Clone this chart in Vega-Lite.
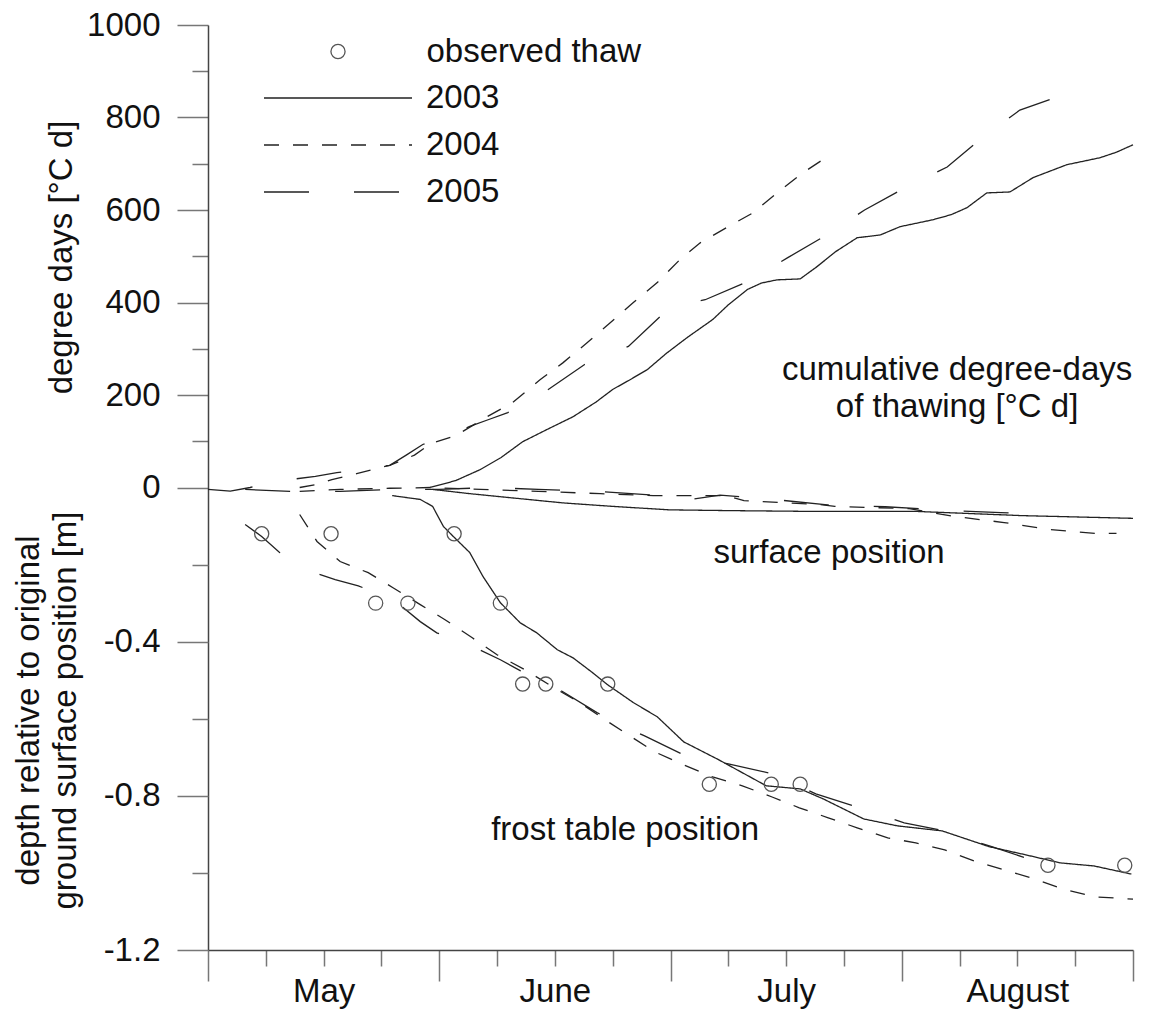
{
  "$schema": "https://vega.github.io/schema/vega-lite/v6.json",
  "width": 925,
  "height": 925,
  "autosize": "none",
  "padding": {"left": 208, "top": 25, "right": 18, "bottom": 67},
  "background": "white",
  "config": {
    "view": {"stroke": null},
    "font": "Liberation Sans",
    "axis": {"labelFont": "Liberation Sans", "titleFont": "Liberation Sans", "labelColor": "#111", "titleColor": "#111", "labelFontSize": 33, "titleFontSize": 33, "titleFontWeight": "normal", "grid": false, "domainColor": "#444", "domainWidth": 1.5, "tickColor": "#777", "tickWidth": 1.5, "labelOverlap": false, "labelFlush": false},
    "legend": {"labelFont": "Liberation Sans", "labelFontSize": 33, "labelColor": "#111", "labelLimit": 0, "padding": 0}
  },
  "datasets": {
    "degreedays": [
      {"year": "2003", "day": 26.9, "dd": 0}, {"year": "2003", "day": 30, "dd": 15}, {"year": "2003", "day": 33, "dd": 39}, {"year": "2003", "day": 35.5, "dd": 65}, {"year": "2003", "day": 38.1, "dd": 99}, {"year": "2003", "day": 41, "dd": 125}, {"year": "2003", "day": 44.2, "dd": 153}, {"year": "2003", "day": 47, "dd": 185}, {"year": "2003", "day": 49, "dd": 212}, {"year": "2003", "day": 51, "dd": 232}, {"year": "2003", "day": 53.2, "dd": 255}, {"year": "2003", "day": 55.5, "dd": 290}, {"year": "2003", "day": 58, "dd": 324}, {"year": "2003", "day": 61.1, "dd": 363}, {"year": "2003", "day": 63, "dd": 395}, {"year": "2003", "day": 65.3, "dd": 428}, {"year": "2003", "day": 67, "dd": 442}, {"year": "2003", "day": 68.9, "dd": 449}, {"year": "2003", "day": 71.7, "dd": 451}, {"year": "2003", "day": 73.7, "dd": 477}, {"year": "2003", "day": 76, "dd": 510}, {"year": "2003", "day": 78.6, "dd": 540}, {"year": "2003", "day": 81.4, "dd": 546}, {"year": "2003", "day": 83.8, "dd": 564}, {"year": "2003", "day": 87.8, "dd": 579}, {"year": "2003", "day": 90, "dd": 590}, {"year": "2003", "day": 91.9, "dd": 605}, {"year": "2003", "day": 94.3, "dd": 637}, {"year": "2003", "day": 97.1, "dd": 639}, {"year": "2003", "day": 99.9, "dd": 670}, {"year": "2003", "day": 104, "dd": 698}, {"year": "2003", "day": 108, "dd": 713}, {"year": "2003", "day": 110, "dd": 725}, {"year": "2003", "day": 112, "dd": 741},
      {"year": "2004", "day": 11.1, "dd": 0}, {"year": "2004", "day": 13, "dd": 6}, {"year": "2004", "day": 15, "dd": 17}, {"year": "2004", "day": 18, "dd": 30}, {"year": "2004", "day": 22, "dd": 48}, {"year": "2004", "day": 25, "dd": 70}, {"year": "2004", "day": 27, "dd": 95}, {"year": "2004", "day": 30, "dd": 112}, {"year": "2004", "day": 33.8, "dd": 153}, {"year": "2004", "day": 36.9, "dd": 184}, {"year": "2004", "day": 40.2, "dd": 233}, {"year": "2004", "day": 43, "dd": 270}, {"year": "2004", "day": 45.9, "dd": 313}, {"year": "2004", "day": 48.7, "dd": 356}, {"year": "2004", "day": 51.5, "dd": 400}, {"year": "2004", "day": 54.4, "dd": 443}, {"year": "2004", "day": 57.1, "dd": 492}, {"year": "2004", "day": 59.6, "dd": 529}, {"year": "2004", "day": 62.8, "dd": 562}, {"year": "2004", "day": 66, "dd": 594}, {"year": "2004", "day": 68.9, "dd": 637}, {"year": "2004", "day": 72, "dd": 680}, {"year": "2004", "day": 75.3, "dd": 719},
      {"year": "2005", "day": 0, "dd": -4}, {"year": "2005", "day": 2.7, "dd": -8}, {"year": "2005", "day": 5.1, "dd": 0}, {"year": "2005", "day": 7.1, "dd": 10}, {"year": "2005", "day": 9.9, "dd": 17}, {"year": "2005", "day": 13, "dd": 24}, {"year": "2005", "day": 15.6, "dd": 32}, {"year": "2005", "day": 19, "dd": 40}, {"year": "2005", "day": 22, "dd": 48}, {"year": "2005", "day": 24, "dd": 70}, {"year": "2005", "day": 26, "dd": 93}, {"year": "2005", "day": 29, "dd": 112}, {"year": "2005", "day": 31.7, "dd": 132}, {"year": "2005", "day": 34, "dd": 147}, {"year": "2005", "day": 36.3, "dd": 162}, {"year": "2005", "day": 41.2, "dd": 212}, {"year": "2005", "day": 45.6, "dd": 266}, {"year": "2005", "day": 48, "dd": 285}, {"year": "2005", "day": 50.9, "dd": 305}, {"year": "2005", "day": 55, "dd": 374}, {"year": "2005", "day": 57, "dd": 395}, {"year": "2005", "day": 60.2, "dd": 406}, {"year": "2005", "day": 65.3, "dd": 445}, {"year": "2005", "day": 70.2, "dd": 497}, {"year": "2005", "day": 74.9, "dd": 546}, {"year": "2005", "day": 79.5, "dd": 600}, {"year": "2005", "day": 84.4, "dd": 648}, {"year": "2005", "day": 89.5, "dd": 693}, {"year": "2005", "day": 93.7, "dd": 756}, {"year": "2005", "day": 98.3, "dd": 816}, {"year": "2005", "day": 103.5, "dd": 849}, {"year": "2005", "day": 105.3, "dd": 860}
    ],
    "depth": [
      {"year": "2003", "kind": "surface", "day": 27.2, "depth": -0.005}, {"year": "2003", "kind": "surface", "day": 31.7, "depth": -0.016}, {"year": "2003", "kind": "surface", "day": 37.8, "depth": -0.029}, {"year": "2003", "kind": "surface", "day": 43, "depth": -0.04}, {"year": "2003", "kind": "surface", "day": 49, "depth": -0.049}, {"year": "2003", "kind": "surface", "day": 55.9, "depth": -0.058}, {"year": "2003", "kind": "surface", "day": 63.2, "depth": -0.06}, {"year": "2003", "kind": "surface", "day": 73, "depth": -0.062}, {"year": "2003", "kind": "surface", "day": 85.7, "depth": -0.062}, {"year": "2003", "kind": "surface", "day": 98.6, "depth": -0.073}, {"year": "2003", "kind": "surface", "day": 112, "depth": -0.08},
      {"year": "2004", "kind": "surface", "day": 11.1, "depth": -0.01}, {"year": "2004", "kind": "surface", "day": 16, "depth": -0.005}, {"year": "2004", "kind": "surface", "day": 22, "depth": -0.002}, {"year": "2004", "kind": "surface", "day": 27, "depth": 0.0}, {"year": "2004", "kind": "surface", "day": 33, "depth": -0.005}, {"year": "2004", "kind": "surface", "day": 40, "depth": -0.01}, {"year": "2004", "kind": "surface", "day": 47.5, "depth": -0.016}, {"year": "2004", "kind": "surface", "day": 53.9, "depth": -0.021}, {"year": "2004", "kind": "surface", "day": 62.8, "depth": -0.021}, {"year": "2004", "kind": "surface", "day": 64.9, "depth": -0.034}, {"year": "2004", "kind": "surface", "day": 73.9, "depth": -0.044}, {"year": "2004", "kind": "surface", "day": 75.9, "depth": -0.049}, {"year": "2004", "kind": "surface", "day": 84.9, "depth": -0.055}, {"year": "2004", "kind": "surface", "day": 90.4, "depth": -0.075}, {"year": "2004", "kind": "surface", "day": 96.4, "depth": -0.091}, {"year": "2004", "kind": "surface", "day": 101.9, "depth": -0.109}, {"year": "2004", "kind": "surface", "day": 107.5, "depth": -0.119}, {"year": "2004", "kind": "surface", "day": 110, "depth": -0.119},
      {"year": "2005", "kind": "surface", "day": 4.5, "depth": -0.005}, {"year": "2005", "kind": "surface", "day": 10, "depth": -0.01}, {"year": "2005", "kind": "surface", "day": 16, "depth": -0.01}, {"year": "2005", "kind": "surface", "day": 22, "depth": -0.005}, {"year": "2005", "kind": "surface", "day": 28, "depth": -0.005}, {"year": "2005", "kind": "surface", "day": 34, "depth": 0.0}, {"year": "2005", "kind": "surface", "day": 40, "depth": -0.005}, {"year": "2005", "kind": "surface", "day": 47, "depth": -0.01}, {"year": "2005", "kind": "surface", "day": 54, "depth": -0.02}, {"year": "2005", "kind": "surface", "day": 58, "depth": -0.032}, {"year": "2005", "kind": "surface", "day": 62, "depth": -0.02}, {"year": "2005", "kind": "surface", "day": 68, "depth": -0.03}, {"year": "2005", "kind": "surface", "day": 75, "depth": -0.045}, {"year": "2005", "kind": "surface", "day": 82, "depth": -0.05}, {"year": "2005", "kind": "surface", "day": 90, "depth": -0.06}, {"year": "2005", "kind": "surface", "day": 96, "depth": -0.065}, {"year": "2005", "kind": "surface", "day": 101, "depth": -0.07},
      {"year": "2003", "kind": "frost", "day": 22.3, "depth": -0.021}, {"year": "2003", "kind": "frost", "day": 25.7, "depth": -0.031}, {"year": "2003", "kind": "frost", "day": 27.2, "depth": -0.049}, {"year": "2003", "kind": "frost", "day": 28.5, "depth": -0.101}, {"year": "2003", "kind": "frost", "day": 29.7, "depth": -0.127}, {"year": "2003", "kind": "frost", "day": 31.7, "depth": -0.169}, {"year": "2003", "kind": "frost", "day": 33.3, "depth": -0.231}, {"year": "2003", "kind": "frost", "day": 35.4, "depth": -0.299}, {"year": "2003", "kind": "frost", "day": 37.8, "depth": -0.351}, {"year": "2003", "kind": "frost", "day": 39.8, "depth": -0.377}, {"year": "2003", "kind": "frost", "day": 42.3, "depth": -0.421}, {"year": "2003", "kind": "frost", "day": 44.2, "depth": -0.442}, {"year": "2003", "kind": "frost", "day": 46.6, "depth": -0.481}, {"year": "2003", "kind": "frost", "day": 48.4, "depth": -0.512}, {"year": "2003", "kind": "frost", "day": 51.5, "depth": -0.558}, {"year": "2003", "kind": "frost", "day": 54.4, "depth": -0.595}, {"year": "2003", "kind": "frost", "day": 57.6, "depth": -0.66}, {"year": "2003", "kind": "frost", "day": 61.8, "depth": -0.706}, {"year": "2003", "kind": "frost", "day": 67.6, "depth": -0.774}, {"year": "2003", "kind": "frost", "day": 71.7, "depth": -0.782}, {"year": "2003", "kind": "frost", "day": 74.5, "depth": -0.808}, {"year": "2003", "kind": "frost", "day": 79.4, "depth": -0.86}, {"year": "2003", "kind": "frost", "day": 83.5, "depth": -0.878}, {"year": "2003", "kind": "frost", "day": 88.9, "depth": -0.891}, {"year": "2003", "kind": "frost", "day": 94.6, "depth": -0.932}, {"year": "2003", "kind": "frost", "day": 99, "depth": -0.953}, {"year": "2003", "kind": "frost", "day": 103.2, "depth": -0.974}, {"year": "2003", "kind": "frost", "day": 107.3, "depth": -0.982}, {"year": "2003", "kind": "frost", "day": 111.8, "depth": -1.003},
      {"year": "2004", "kind": "frost", "day": 11.1, "depth": -0.07}, {"year": "2004", "kind": "frost", "day": 13.2, "depth": -0.14}, {"year": "2004", "kind": "frost", "day": 16, "depth": -0.192}, {"year": "2004", "kind": "frost", "day": 19.4, "depth": -0.221}, {"year": "2004", "kind": "frost", "day": 22.4, "depth": -0.26}, {"year": "2004", "kind": "frost", "day": 25.7, "depth": -0.304}, {"year": "2004", "kind": "frost", "day": 28.7, "depth": -0.343}, {"year": "2004", "kind": "frost", "day": 32, "depth": -0.39}, {"year": "2004", "kind": "frost", "day": 35, "depth": -0.434}, {"year": "2004", "kind": "frost", "day": 38.4, "depth": -0.473}, {"year": "2004", "kind": "frost", "day": 41.7, "depth": -0.517}, {"year": "2004", "kind": "frost", "day": 45, "depth": -0.558}, {"year": "2004", "kind": "frost", "day": 48.1, "depth": -0.603}, {"year": "2004", "kind": "frost", "day": 50.9, "depth": -0.642}, {"year": "2004", "kind": "frost", "day": 54.1, "depth": -0.686}, {"year": "2004", "kind": "frost", "day": 57.5, "depth": -0.719}, {"year": "2004", "kind": "frost", "day": 61.1, "depth": -0.751}, {"year": "2004", "kind": "frost", "day": 64.7, "depth": -0.774}, {"year": "2004", "kind": "frost", "day": 68.3, "depth": -0.803}, {"year": "2004", "kind": "frost", "day": 71.6, "depth": -0.831}, {"year": "2004", "kind": "frost", "day": 75.1, "depth": -0.857}, {"year": "2004", "kind": "frost", "day": 78.6, "depth": -0.883}, {"year": "2004", "kind": "frost", "day": 82.3, "depth": -0.909}, {"year": "2004", "kind": "frost", "day": 85.7, "depth": -0.922}, {"year": "2004", "kind": "frost", "day": 89.2, "depth": -0.94}, {"year": "2004", "kind": "frost", "day": 93, "depth": -0.971}, {"year": "2004", "kind": "frost", "day": 96.4, "depth": -0.992}, {"year": "2004", "kind": "frost", "day": 100.1, "depth": -1.016}, {"year": "2004", "kind": "frost", "day": 103.6, "depth": -1.042}, {"year": "2004", "kind": "frost", "day": 107.3, "depth": -1.062}, {"year": "2004", "kind": "frost", "day": 112, "depth": -1.068},
      {"year": "2005", "kind": "frost", "day": 4.5, "depth": -0.096}, {"year": "2005", "kind": "frost", "day": 6.5, "depth": -0.127}, {"year": "2005", "kind": "frost", "day": 8.7, "depth": -0.169}, {"year": "2005", "kind": "frost", "day": 10.9, "depth": -0.192}, {"year": "2005", "kind": "frost", "day": 13.2, "depth": -0.223}, {"year": "2005", "kind": "frost", "day": 15.4, "depth": -0.239}, {"year": "2005", "kind": "frost", "day": 18.2, "depth": -0.255}, {"year": "2005", "kind": "frost", "day": 20.8, "depth": -0.278}, {"year": "2005", "kind": "frost", "day": 23.2, "depth": -0.304}, {"year": "2005", "kind": "frost", "day": 25.7, "depth": -0.348}, {"year": "2005", "kind": "frost", "day": 27.7, "depth": -0.377}, {"year": "2005", "kind": "frost", "day": 30.5, "depth": -0.4}, {"year": "2005", "kind": "frost", "day": 32.9, "depth": -0.421}, {"year": "2005", "kind": "frost", "day": 35.4, "depth": -0.447}, {"year": "2005", "kind": "frost", "day": 37.8, "depth": -0.475}, {"year": "2005", "kind": "frost", "day": 40.2, "depth": -0.499}, {"year": "2005", "kind": "frost", "day": 42.6, "depth": -0.525}, {"year": "2005", "kind": "frost", "day": 47.1, "depth": -0.584}, {"year": "2005", "kind": "frost", "day": 49.9, "depth": -0.616}, {"year": "2005", "kind": "frost", "day": 52.8, "depth": -0.644}, {"year": "2005", "kind": "frost", "day": 57.6, "depth": -0.694}, {"year": "2005", "kind": "frost", "day": 60.2, "depth": -0.706}, {"year": "2005", "kind": "frost", "day": 63, "depth": -0.717}, {"year": "2005", "kind": "frost", "day": 68.8, "depth": -0.745}, {"year": "2005", "kind": "frost", "day": 71.1, "depth": -0.771}, {"year": "2005", "kind": "frost", "day": 73.6, "depth": -0.795}, {"year": "2005", "kind": "frost", "day": 78.9, "depth": -0.831}, {"year": "2005", "kind": "frost", "day": 81.4, "depth": -0.849}, {"year": "2005", "kind": "frost", "day": 84.3, "depth": -0.87}, {"year": "2005", "kind": "frost", "day": 89.2, "depth": -0.891}, {"year": "2005", "kind": "frost", "day": 92.3, "depth": -0.914}, {"year": "2005", "kind": "frost", "day": 94.9, "depth": -0.932}, {"year": "2005", "kind": "frost", "day": 100.4, "depth": -0.971}
    ],
    "observed": [
      {"obs": "observed thaw", "day": 6.5, "depth": -0.12}, {"obs": "observed thaw", "day": 14.9, "depth": -0.12}, {"obs": "observed thaw", "day": 20.3, "depth": -0.3}, {"obs": "observed thaw", "day": 24.2, "depth": -0.3}, {"obs": "observed thaw", "day": 29.8, "depth": -0.12}, {"obs": "observed thaw", "day": 35.4, "depth": -0.3}, {"obs": "observed thaw", "day": 38.1, "depth": -0.51}, {"obs": "observed thaw", "day": 40.9, "depth": -0.51}, {"obs": "observed thaw", "day": 48.4, "depth": -0.51}, {"obs": "observed thaw", "day": 60.7, "depth": -0.77}, {"obs": "observed thaw", "day": 68.2, "depth": -0.77}, {"obs": "observed thaw", "day": 71.7, "depth": -0.77}, {"obs": "observed thaw", "day": 101.7, "depth": -0.98}, {"obs": "observed thaw", "day": 111, "depth": -0.98}
    ]
  },
  "layer": [
    {
      "layer": [
        {
          "data": {"name": "degreedays"},
          "mark": {"type": "line", "color": "#222", "strokeWidth": 1.3},
          "encoding": {
            "x": {"field": "day", "type": "quantitative", "scale": {"domain": [0, 112], "nice": false, "zero": false},
              "axis": {"title": null, "values": [0, 7, 14, 21, 28, 35, 42, 49, 56, 63, 70, 77, 84, 91, 98, 105, 112],
                "tickSize": {"condition": {"test": "datum.value % 28 === 0", "value": 31}, "value": 16},
                "labelExpr": "datum.value === 14 ? 'May' : datum.value === 42 ? 'June' : datum.value === 70 ? 'July' : datum.value === 98 ? 'August' : ''",
                "labelPadding": 9, "labelBaseline": "top", "labelAlign": "center"}},
            "y": {"field": "dd", "type": "quantitative", "scale": {"domain": [-1000, 1000], "nice": false, "zero": false},
              "axis": {"orient": "left", "title": "degree days [°C d]", "values": [0, 100, 200, 300, 400, 500, 600, 700, 800, 900, 1000], "format": "d",
                "labelExpr": "datum.value % 200 === 0 ? datum.label : ''",
                "tickSize": {"condition": {"test": "datum.value % 200 === 0", "value": 31}, "value": 16},
                "labelPadding": 17, "titleAngle": -90, "titleAlign": "center", "titleBaseline": "alphabetic", "titleX": -137, "titleY": 232}},
            "strokeDash": {"field": "year", "type": "nominal", "scale": {"domain": ["2003", "2004", "2005"], "range": [[1, 0], [15, 14], [45, 45]]},
              "legend": {"orient": "none", "legendX": 55, "legendY": 56.5, "title": null, "symbolType": "stroke", "symbolSize": 21904, "symbolStrokeWidth": 1.3, "symbolStrokeColor": "#222", "labelOffset": 13, "clipHeight": 33, "rowPadding": 13}}
          }
        },
        {
          "data": {"values": [{}]},
          "mark": {"type": "text", "fontSize": 33, "align": "center", "baseline": "alphabetic", "lineHeight": 37, "color": "#111"},
          "encoding": {
            "x": {"datum": 90.7, "type": "quantitative"},
            "y": {"datum": 233, "type": "quantitative"},
            "text": {"value": ["cumulative degree-days", "of thawing [°C d]"]}
          }
        }
      ]
    },
    {
      "layer": [
        {
          "data": {"name": "depth"},
          "mark": {"type": "line", "color": "#222", "strokeWidth": 1.3},
          "encoding": {
            "x": {"field": "day", "type": "quantitative"},
            "y": {"field": "depth", "type": "quantitative", "scale": {"domain": [-1.2, 1.2], "nice": false, "zero": false},
              "axis": {"orient": "left", "title": ["depth relative to original", "ground surface position [m]"], "values": [-0.2, -0.4, -0.6, -0.8, -1, -1.2], "domain": false,
                "labelExpr": "abs(round(datum.value * 10)) % 4 === 0 ? '-' + format(abs(datum.value), '.1f') : ''",
                "tickSize": {"condition": {"test": "abs(round(datum.value * 10)) % 4 === 0", "value": 31}, "value": 16},
                "labelPadding": 17, "titleAngle": -90, "titleAlign": "center", "titleBaseline": "alphabetic", "titleX": -170, "titleY": 685, "titleLineHeight": 37}},
            "strokeDash": {"field": "year", "type": "nominal"},
            "detail": {"field": "kind", "type": "nominal"}
          }
        },
        {
          "data": {"name": "observed"},
          "mark": {"type": "point", "filled": false, "stroke": "#555", "strokeWidth": 1.3, "size": 200, "opacity": 1},
          "encoding": {
            "x": {"field": "day", "type": "quantitative"},
            "y": {"field": "depth", "type": "quantitative"},
            "shape": {"field": "obs", "type": "nominal", "scale": {"range": ["circle"]},
              "legend": {"orient": "none", "legendX": 113.5, "legendY": 10, "title": null, "symbolSize": 200, "symbolStrokeColor": "#555", "symbolStrokeWidth": 1.3, "labelOffset": 72}}
          }
        },
        {
          "data": {"values": [{}]},
          "mark": {"type": "text", "fontSize": 33, "align": "center", "baseline": "alphabetic", "color": "#111"},
          "encoding": {
            "x": {"datum": 75.2, "type": "quantitative"},
            "y": {"datum": -0.195, "type": "quantitative"},
            "text": {"value": "surface position"}
          }
        },
        {
          "data": {"values": [{}]},
          "mark": {"type": "text", "fontSize": 33, "align": "center", "baseline": "alphabetic", "color": "#111"},
          "encoding": {
            "x": {"datum": 50.5, "type": "quantitative"},
            "y": {"datum": -0.914, "type": "quantitative"},
            "text": {"value": "frost table position"}
          }
        }
      ]
    }
  ],
  "resolve": {"scale": {"y": "independent"}, "axis": {"y": "independent"}}
}
